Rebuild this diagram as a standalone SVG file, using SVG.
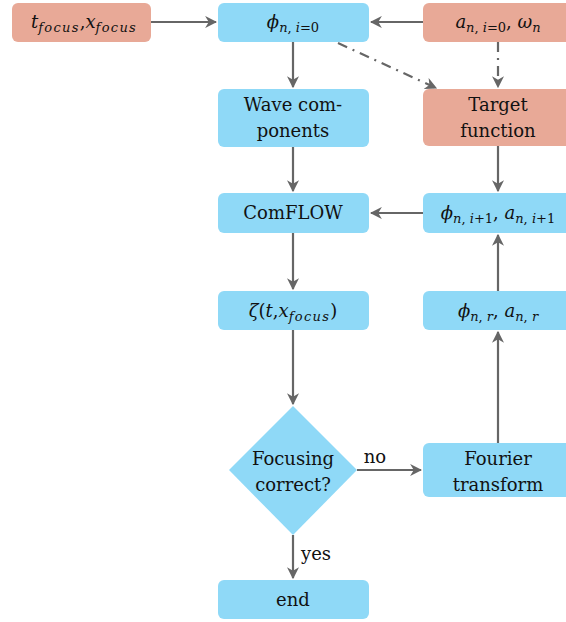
<svg xmlns="http://www.w3.org/2000/svg" width="566" height="622" viewBox="0 0 566 622">
<style>
.b{fill:#8fd9f7}
.s{fill:#e8a997}
text{font-family:"DejaVu Serif","Liberation Serif",serif;font-size:18px;fill:#111;text-anchor:middle}
.m{font-style:italic}
.sub{font-size:13px}
.f{letter-spacing:1.3px}
.c{stroke:#666;stroke-width:2.2;fill:none;marker-end:url(#ah)}
.d{stroke-dasharray:10 6 2 6}
</style>
<defs>
<marker id="ah" viewBox="0 0 10 10" refX="9" refY="5" markerWidth="5.5" markerHeight="5.5" orient="auto" markerUnits="strokeWidth">
<path d="M0,0 L10,5 L0,10 L3,5 Z" fill="#666"/>
</marker>
</defs>
<g id="connectors">
<line class="c" x1="151" y1="22" x2="216" y2="22"/>
<line class="c" x1="423" y1="22" x2="371" y2="22"/>
<line class="c" x1="293" y1="42" x2="293" y2="87"/>
<line class="c d" x1="338" y1="43" x2="436" y2="88"/>
<line class="c d" x1="498" y1="42" x2="498" y2="87"/>
<line class="c" x1="293" y1="147" x2="293" y2="191"/>
<line class="c" x1="498" y1="146" x2="498" y2="191"/>
<line class="c" x1="423" y1="213" x2="371" y2="213"/>
<line class="c" x1="293" y1="233" x2="293" y2="289"/>
<line class="c" x1="498" y1="291" x2="498" y2="235"/>
<line class="c" x1="293" y1="330" x2="293" y2="404"/>
<line class="c" x1="498" y1="443" x2="498" y2="332"/>
<line class="c" x1="357" y1="470" x2="421" y2="470"/>
<line class="c" x1="293" y1="535" x2="293" y2="578"/>
<text x="375" y="463">no</text>
<text x="316" y="560">yes</text>
</g>
<g id="tfocus">
<rect class="s" x="12" y="3" width="139" height="39" rx="6"/>
<text x="84" y="28" class="m" font-size="19px">t<tspan class="sub f" dy="4">focus</tspan><tspan dy="-4" font-style="normal">,</tspan>x<tspan class="sub f" dy="4">focus</tspan></text>
</g>
<g id="phi0">
<rect class="b" x="218" y="3" width="151" height="39" rx="6"/>
<text x="293" y="28" font-size="19px"><tspan class="m">ϕ</tspan><tspan class="sub" dy="4"><tspan class="m">n</tspan>, <tspan class="m">i</tspan>=0</tspan></text>
</g>
<g id="anomega">
<rect class="s" x="423" y="3" width="151" height="39" rx="6"/>
<text x="498" y="28" font-size="19px"><tspan class="m">a</tspan><tspan class="sub" dy="4"><tspan class="m">n</tspan>, <tspan class="m">i</tspan>=0</tspan><tspan dy="-4">,  </tspan><tspan class="m">ω</tspan><tspan class="sub m" dy="4">n</tspan></text>
</g>
<g id="wave">
<rect class="b" x="218" y="89" width="151" height="58" rx="6"/>
<text x="293" y="111">Wave com-</text>
<text x="293" y="137">ponents</text>
</g>
<g id="target">
<rect class="s" x="423" y="89" width="151" height="57" rx="6"/>
<text x="498" y="111">Target</text>
<text x="498" y="137">function</text>
</g>
<g id="comflow">
<rect class="b" x="218" y="193" width="151" height="40" rx="6"/>
<text x="293" y="219">ComFLOW</text>
</g>
<g id="phinext">
<rect class="b" x="423" y="193" width="151" height="40" rx="6"/>
<text x="498" y="219" font-size="19px"><tspan class="m">ϕ</tspan><tspan class="sub" dy="4"><tspan class="m">n</tspan>, <tspan class="m">i</tspan>+1</tspan><tspan dy="-4">, </tspan><tspan class="m">a</tspan><tspan class="sub" dy="4"><tspan class="m">n</tspan>, <tspan class="m">i</tspan>+1</tspan></text>
</g>
<g id="zeta">
<rect class="b" x="218" y="291" width="151" height="39" rx="6"/>
<text x="293" y="317" font-size="19px"><tspan class="m">ζ</tspan>(<tspan class="m">t</tspan>,<tspan class="m">x</tspan><tspan class="sub m f" dy="4">focus</tspan><tspan dy="-4">)</tspan></text>
</g>
<g id="phir">
<rect class="b" x="423" y="291" width="151" height="39" rx="6"/>
<text x="498" y="317" font-size="19px"><tspan class="m">ϕ</tspan><tspan class="sub" dy="4"><tspan class="m">n</tspan>, <tspan class="m">r</tspan></tspan><tspan dy="-4">,  </tspan><tspan class="m">a</tspan><tspan class="sub" dy="4"><tspan class="m">n</tspan>, <tspan class="m">r</tspan></tspan></text>
</g>
<g id="decision">
<polygon class="b" points="293,406 357,470 293,535 229,470"/>
<text x="293" y="465">Focusing</text>
<text x="293" y="491">correct?</text>
</g>
<g id="fourier">
<rect class="b" x="423" y="443" width="151" height="54" rx="6"/>
<text x="498" y="465">Fourier</text>
<text x="498" y="491">transform</text>
</g>
<g id="end">
<rect class="b" x="218" y="580" width="151" height="39" rx="6"/>
<text x="293" y="606">end</text>
</g>
</svg>
